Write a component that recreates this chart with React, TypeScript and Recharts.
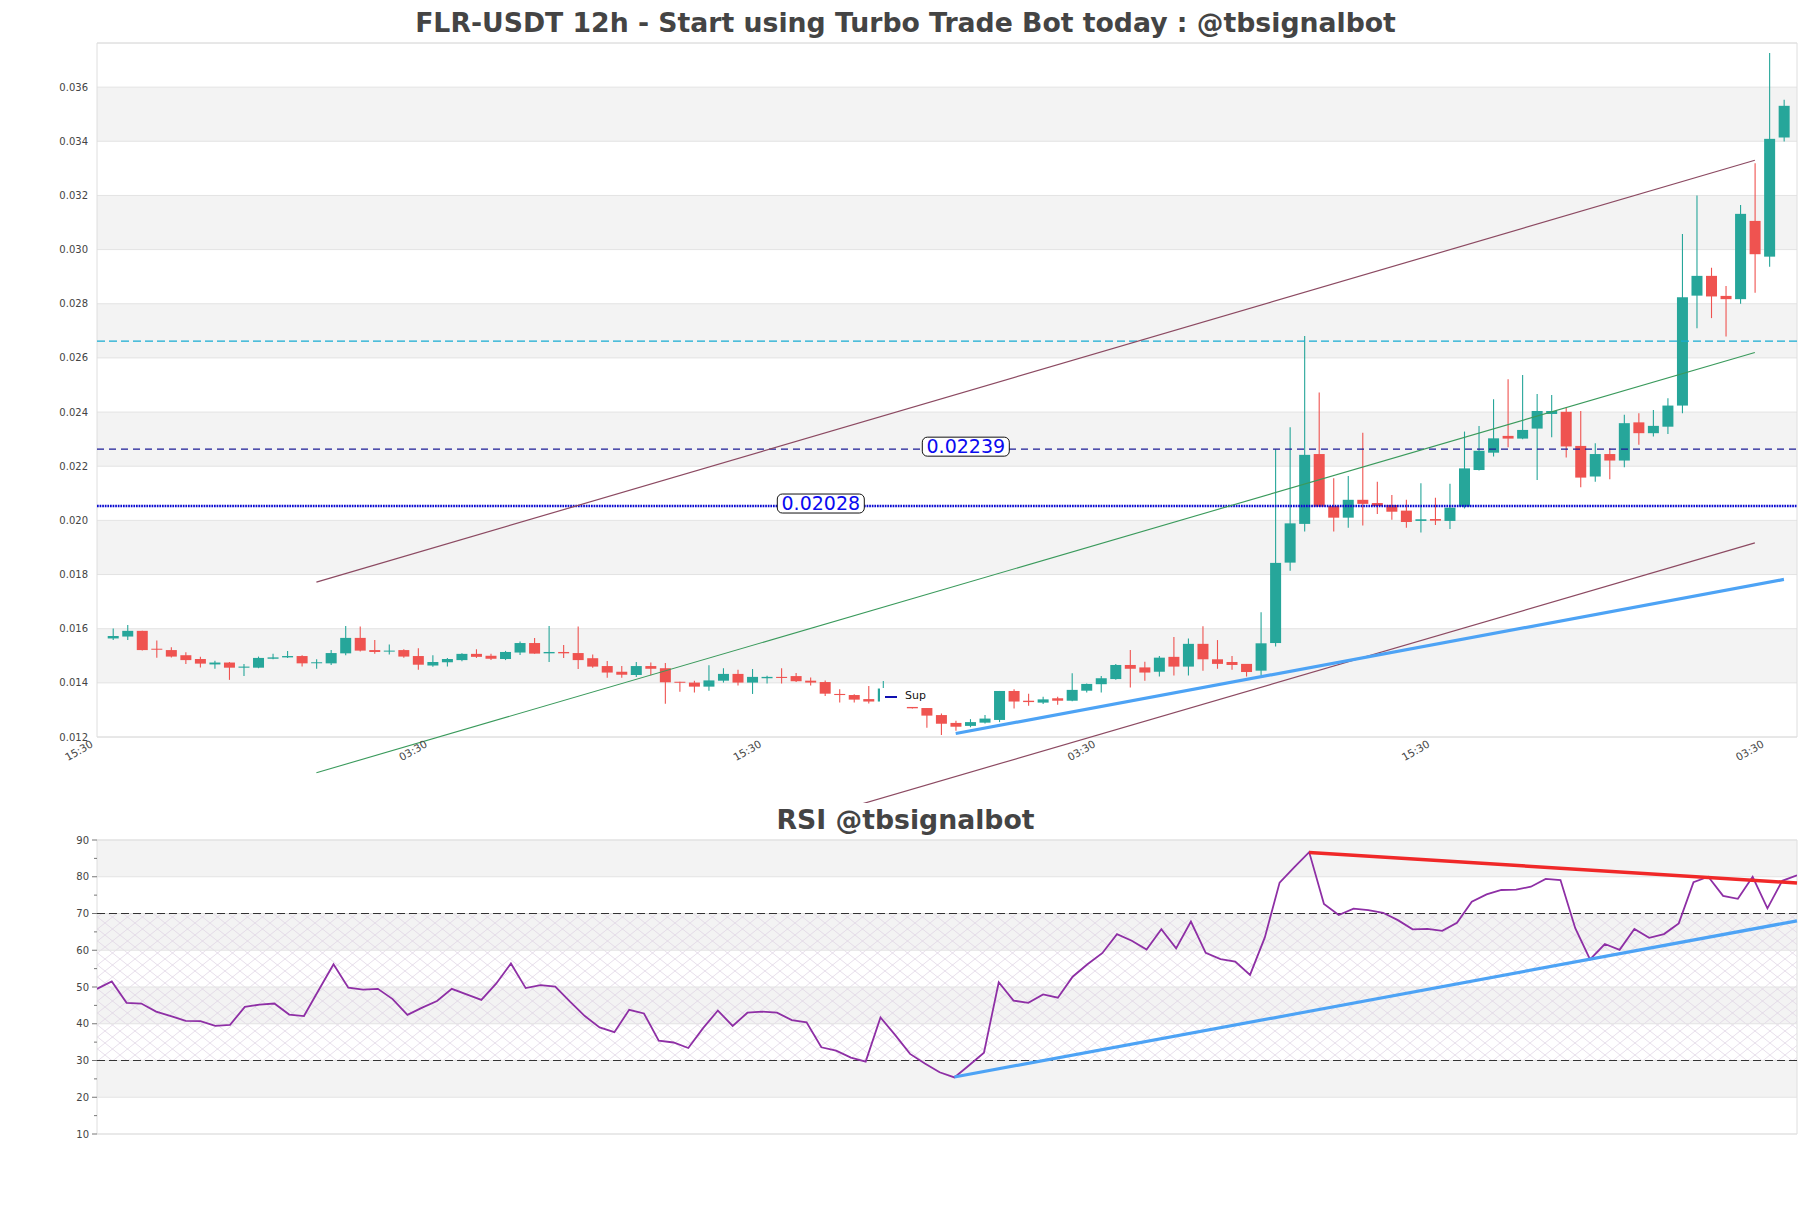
import React from "react";
import {
  ComposedChart,
  Bar,
  Line,
  XAxis,
  YAxis,
  CartesianGrid,
  ReferenceArea,
  ReferenceLine,
} from "recharts";

// 12h candles, index 0..115
const OPEN = [
  0.01564, 0.01571, 0.01592, 0.01526, 0.01521, 0.01502, 0.01488, 0.01468, 0.01475, 0.01456,
  0.01456, 0.01489, 0.01494, 0.01499, 0.01473, 0.01472, 0.01509, 0.01566, 0.01521, 0.01516,
  0.01521, 0.01499, 0.01464, 0.01476, 0.01484, 0.01507, 0.015, 0.01488, 0.01512, 0.01547,
  0.01509, 0.01514, 0.0151, 0.01491, 0.01462, 0.01441, 0.01429, 0.01462, 0.01454, 0.01404,
  0.01401, 0.01386, 0.01408, 0.01433, 0.01401, 0.01417, 0.01422, 0.01425, 0.01408, 0.01403,
  0.01359, 0.01355, 0.0134, 0.01331, 0.01372, 0.01311, 0.01307, 0.01281, 0.01252, 0.01241,
  0.01253, 0.01263, 0.0137, 0.01334, 0.01327, 0.01343, 0.01334, 0.01371, 0.01395, 0.01414,
  0.01466, 0.01457, 0.01441, 0.01496, 0.0146, 0.01544, 0.01487, 0.01477, 0.0147, 0.01445,
  0.01547, 0.01844, 0.01987, 0.02245, 0.02053, 0.0201, 0.02076, 0.02064, 0.02057, 0.02036,
  0.01998, 0.02005, 0.01998, 0.02051, 0.02186, 0.0225, 0.02312, 0.02302, 0.02339, 0.02393,
  0.02401, 0.02275, 0.02162, 0.02245, 0.02221, 0.02362, 0.02322, 0.02346, 0.02424, 0.0283,
  0.02903, 0.02829, 0.02817, 0.03106, 0.02974, 0.03414,
];
const HIGH = [
  0.01601, 0.01614, 0.01592, 0.01556, 0.01531, 0.01513, 0.01496, 0.01482, 0.01477, 0.0147,
  0.01497, 0.01507, 0.01518, 0.01502, 0.01487, 0.01521, 0.0161, 0.01608, 0.01558, 0.01542,
  0.01524, 0.01528, 0.01502, 0.01492, 0.01509, 0.01524, 0.01507, 0.01518, 0.01553, 0.01566,
  0.0161, 0.0154, 0.01608, 0.01505, 0.01481, 0.01462, 0.01477, 0.01475, 0.01473, 0.01404,
  0.01408, 0.01465, 0.01454, 0.01448, 0.01451, 0.01426, 0.01454, 0.01436, 0.0142, 0.01409,
  0.01376, 0.01358, 0.01388, 0.01407, 0.01376, 0.01311, 0.01307, 0.01287, 0.0126, 0.01266,
  0.01281, 0.0137, 0.01376, 0.0136, 0.01349, 0.01349, 0.01435, 0.01398, 0.01425, 0.0147,
  0.01521, 0.01478, 0.01499, 0.01569, 0.01564, 0.01609, 0.01558, 0.01499, 0.0147, 0.01661,
  0.02263, 0.02344, 0.02681, 0.02472, 0.02156, 0.02164, 0.02324, 0.02143, 0.02094, 0.02076,
  0.02137, 0.02084, 0.02135, 0.02328, 0.02349, 0.02447, 0.02521, 0.02537, 0.02467, 0.02463,
  0.02417, 0.02404, 0.02285, 0.02266, 0.0239, 0.02396, 0.02408, 0.02451, 0.03058, 0.032,
  0.02933, 0.02866, 0.03165, 0.03319, 0.03726, 0.03553,
];
const LOW = [
  0.01558, 0.01558, 0.01519, 0.01493, 0.01494, 0.0147, 0.01457, 0.01452, 0.01411, 0.01425,
  0.01454, 0.01487, 0.01492, 0.0146, 0.01452, 0.01466, 0.01502, 0.01516, 0.01507, 0.01505,
  0.01493, 0.01448, 0.01459, 0.0146, 0.0148, 0.01492, 0.01484, 0.01484, 0.01503, 0.01507,
  0.01477, 0.01492, 0.01451, 0.01456, 0.01419, 0.01419, 0.01422, 0.01428, 0.01323, 0.01367,
  0.01364, 0.01371, 0.01401, 0.0139, 0.01359, 0.01398, 0.01398, 0.01403, 0.0139, 0.01351,
  0.01327, 0.01327, 0.01324, 0.01331, 0.0132, 0.01305, 0.01234, 0.01207, 0.01223, 0.01236,
  0.0125, 0.01255, 0.01305, 0.01315, 0.01322, 0.01319, 0.01332, 0.01364, 0.01364, 0.01411,
  0.01383, 0.01408, 0.01423, 0.01427, 0.01427, 0.01445, 0.01452, 0.01448, 0.01423, 0.01429,
  0.01534, 0.01814, 0.01959, 0.02051, 0.01959, 0.01973, 0.01981, 0.02024, 0.02002, 0.01973,
  0.01955, 0.01983, 0.01968, 0.02044, 0.02184, 0.02236, 0.0227, 0.023, 0.02149, 0.02307,
  0.02232, 0.02122, 0.02143, 0.02152, 0.02196, 0.02279, 0.0231, 0.02319, 0.02396, 0.0271,
  0.02747, 0.02679, 0.028, 0.02841, 0.02937, 0.03399,
];
const CLOSE = [
  0.01573, 0.01592, 0.01521, 0.01523, 0.01497, 0.01484, 0.01471, 0.01475, 0.01456, 0.0146,
  0.01492, 0.01494, 0.01499, 0.01472, 0.01476, 0.0151, 0.01566, 0.01519, 0.01514, 0.01519,
  0.01497, 0.01467, 0.01477, 0.01488, 0.01507, 0.01496, 0.01489, 0.01514, 0.01547, 0.01508,
  0.01514, 0.01509, 0.01484, 0.0146, 0.01438, 0.0143, 0.01462, 0.01452, 0.01402, 0.01401,
  0.01386, 0.01409, 0.01433, 0.01401, 0.01422, 0.01422, 0.01418, 0.01406, 0.01401, 0.0136,
  0.01355, 0.01338, 0.01331, 0.01379, 0.01322, 0.01306, 0.01279, 0.01249, 0.01238, 0.01255,
  0.01268, 0.0137, 0.01331, 0.01329, 0.01339, 0.01334, 0.01374, 0.01396, 0.01417, 0.01466,
  0.01452, 0.01438, 0.01493, 0.0146, 0.01544, 0.01487, 0.0147, 0.01466, 0.0144, 0.01546,
  0.01843, 0.01989, 0.02242, 0.02051, 0.0201, 0.02076, 0.02061, 0.02053, 0.02032, 0.01994,
  0.02004, 0.01999, 0.02047, 0.02192, 0.02257, 0.02303, 0.02302, 0.02334, 0.02404, 0.02404,
  0.02273, 0.02158, 0.02245, 0.02221, 0.02359, 0.02322, 0.02349, 0.02424, 0.02824, 0.02903,
  0.02827, 0.02817, 0.03132, 0.02983, 0.03409, 0.03531,
];

const RSI = [
  49.5, 51.5, 45.7, 45.5, 43.3, 42.1, 40.8, 40.7, 39.4, 39.7,
  44.6, 45.2, 45.5, 42.5, 42.1, 49.2, 56.2, 49.8, 49.3, 49.5,
  46.7, 42.4, 44.4, 46.2, 49.5, 48.0, 46.5, 50.9, 56.4, 49.7,
  50.5, 50.1, 46.0, 42.1, 39.0, 37.7, 43.8, 42.8, 35.4, 34.9,
  33.4, 38.8, 43.6, 39.4, 43.0, 43.3, 43.0, 41.0, 40.4, 33.6,
  32.7, 30.8, 29.7, 41.7, 36.9, 31.8, 29.2, 26.8, 25.4, 28.7,
  32.1, 51.3, 46.3, 45.7, 48.0, 47.1, 52.8, 56.2, 59.2, 64.4,
  62.6, 60.2, 65.7, 60.5, 67.8, 59.3, 57.6, 56.9, 53.3, 63.5,
  78.4, 82.6, 86.7, 72.6, 69.6, 71.3, 70.9, 70.2, 68.2, 65.7,
  65.8, 65.3, 67.5, 73.2, 75.2, 76.4, 76.5, 77.3, 79.4, 79.1,
  66.0, 57.5, 61.7, 60.1, 65.8, 63.4, 64.4, 67.3, 78.5, 80.0,
  74.8, 74.0, 80.0, 71.4, 78.9, 80.4,
];

const X_TICKS = [-1.1, 21.9, 44.9, 67.9, 90.9, 113.9];
const X_LABELS = ["15:30", "03:30", "15:30", "03:30", "15:30", "03:30"];
const Y_TICKS = [0.012, 0.014, 0.016, 0.018, 0.02, 0.022, 0.024, 0.026, 0.028, 0.03, 0.032, 0.034, 0.036];
const Y_BANDS = [[0.014, 0.016], [0.018, 0.02], [0.022, 0.024], [0.026, 0.028], [0.03, 0.032], [0.034, 0.036]];
const RSI_TICKS = [10, 15, 20, 25, 30, 35, 40, 45, 50, 55, 60, 65, 70, 75, 80, 85, 90];
const RSI_GRID = [10, 20, 30, 40, 50, 60, 70, 80, 90];
const RSI_BANDS = [[80, 90], [60, 70], [40, 50], [20, 30]];

// trend lines [startIdx, startPrice, endIdx, endPrice]
const CHANNEL_UP = [14, 0.01772, 113, 0.0333];
const CHANNEL_MID = [14, 0.01068, 113, 0.0262];
const CHANNEL_LOW = [14, 0.00364, 113, 0.01917];
const SUPPORT = [58, 0.01213, 115, 0.01782];
const RSI_RES = [82, 86.6, 115, 78.3];
const RSI_SUP = [58, 25.5, 115, 68.0];

const LEVEL_CYAN = 0.02662;
const LEVEL_DASH = 0.02263;
const LEVEL_DOT = 0.02053;

const UP = "#26a69a";
const DOWN = "#ef5350";
const FONT = '"DejaVu Sans", Verdana, sans-serif';

const candles = OPEN.map((o, i) => ({
  i,
  o,
  h: HIGH[i],
  l: LOW[i],
  c: CLOSE[i],
  range: [LOW[i], HIGH[i]],
}));
const rsiData = RSI.map((v, i) => ({ i, rsi: v }));

const seg = (s: number[]) => [
  { x: s[0], y: s[1] },
  { x: s[2], y: s[3] },
];

const Candle = (props: any) => {
  const { x, y, width, height, payload } = props;
  if (!payload) return null;
  const { o, h, l, c } = payload;
  const color = c >= o ? UP : DOWN;
  const top = Math.min(y, y + height);
  const hgt = Math.abs(height);
  const pix = (v: number) => top + ((h - v) / (h - l || 1)) * hgt;
  const cx = x + width / 2;
  const bTop = pix(Math.max(o, c));
  const bBot = pix(Math.min(o, c));
  return (
    <g>
      <line x1={cx} x2={cx} y1={top} y2={top + hgt} stroke={color} strokeWidth={1.1} />
      <rect x={x} y={bTop} width={width} height={Math.max(bBot - bTop, 1)} fill={color} />
    </g>
  );
};

const XTick = (props: any) => {
  const { x, y, payload } = props;
  const idx = X_TICKS.indexOf(payload.value);
  return (
    <text
      transform={`translate(${x - 5},${y + 6}) rotate(-30)`}
      textAnchor="end"
      dy="0.35em"
      fontSize={10.5}
      fill="#444"
      fontFamily={FONT}
    >
      {X_LABELS[idx]}
    </text>
  );
};

const RsiTick = (props: any) => {
  const { x, y, payload } = props;
  const major = payload.value % 10 === 0;
  return (
    <g>
      <line x1={x - (major ? 5 : 3)} x2={x} y1={y} y2={y} stroke="#777" strokeWidth={1} />
      {major && (
        <text x={x - 8} y={y} dy="0.35em" textAnchor="end" fontSize={10} fill="#444" fontFamily={FONT}>
          {payload.value}
        </text>
      )}
    </g>
  );
};

const PriceTag = (props: any) => {
  const { viewBox, text, at } = props;
  if (!viewBox) return null;
  const cx = viewBox.x + at;
  const cy = viewBox.y;
  return (
    <g>
      <rect x={cx - 43.5} y={cy - 12} width={87} height={19} rx={5} fill="#fff" stroke="#111" strokeWidth={1} />
      <text x={cx} y={cy - 3} dy="0.36em" textAnchor="middle" fontSize={19} fill="#0a0af0" fontFamily={FONT}>
        {text}
      </text>
    </g>
  );
};

const titleStyle: React.CSSProperties = {
  position: "absolute",
  left: 0,
  width: 1811,
  textAlign: "center",
  fontFamily: FONT,
  fontWeight: 700,
  fontSize: 26.7,
  lineHeight: "27px",
  color: "#444",
};

export default function App() {
  return (
    <div
      style={{
        position: "absolute",
        left: 0,
        top: 0,
        width: 1811,
        height: 1208,
        background: "#fff",
        overflow: "hidden",
        fontFamily: FONT,
      }}
    >
      <svg width={0} height={0} style={{ position: "absolute" }}>
        <defs>
          <pattern id="rsiHatch" width={15} height={12} patternUnits="userSpaceOnUse">
            <path d="M0,0 L15,12 M15,0 L0,12" stroke="#dcd0e2" strokeWidth={0.7} fill="none" />
          </pattern>
        </defs>
      </svg>

      <div style={{ ...titleStyle, top: 9 }}>
        FLR-USDT 12h - Start using Turbo Trade Bot today : @tbsignalbot
      </div>

      <div style={{ position: "absolute", left: 0, top: 0, width: 1811, height: 803, overflow: "hidden" }}>
        <ComposedChart
          width={1811}
          height={803}
          data={candles}
          margin={{ top: 43, right: 14, bottom: 36, left: 37 }}
        >
          <XAxis
            dataKey="i"
            type="number"
            domain={[-1.1, 115.9]}
            ticks={X_TICKS}
            interval={0}
            height={30}
            tick={<XTick />}
            tickSize={0}
            tickMargin={0}
            axisLine={false}
            tickLine={false}
            allowDataOverflow
          />
          <YAxis
            type="number"
            domain={[0.012, 0.03763]}
            ticks={Y_TICKS}
            interval={0}
            width={60}
            tickSize={6}
            tickMargin={3}
            axisLine={false}
            tickLine={false}
            allowDataOverflow
            tickFormatter={(v: number) => v.toFixed(3)}
            tick={{ fontSize: 10, fill: "#444", fontFamily: FONT }}
          />
          {Y_BANDS.map(([a, b]) => (
            <ReferenceArea key={a} y1={a} y2={b} fill="#f3f3f3" fillOpacity={1} stroke="none" zIndex={-150} />
          ))}
          <CartesianGrid vertical={false} stroke="#e3e3e3" />
          <ReferenceArea
            x1={-1.1}
            x2={115.9}
            y1={0.012}
            y2={0.03763}
            fill="none"
            stroke="#dedede"
            strokeWidth={1}
            ifOverflow="visible"
          />
          <ReferenceLine y={LEVEL_CYAN} stroke="#17acd2" strokeWidth={1.3} strokeDasharray="8 4" />
          <ReferenceLine
            y={LEVEL_DASH}
            stroke="#1c1c96"
            strokeWidth={1.3}
            strokeDasharray="7 5"
            label={<PriceTag text="0.02239" at={868.8} />}
          />
          <ReferenceLine
            y={LEVEL_DOT}
            stroke="#0a0ad0"
            strokeWidth={2.6}
            strokeDasharray="1.7 0.9"
            label={<PriceTag text="0.02028" at={723.8} />}
          />
          <ReferenceLine segment={seg(CHANNEL_UP)} stroke="#8c4a62" strokeWidth={1.2} ifOverflow="visible" />
          <ReferenceLine segment={seg(CHANNEL_MID)} stroke="#3a9a5c" strokeWidth={1.1} ifOverflow="visible" />
          <ReferenceLine segment={seg(CHANNEL_LOW)} stroke="#8c4a62" strokeWidth={1.2} ifOverflow="visible" />
          <ReferenceLine segment={seg(SUPPORT)} stroke="#4da3f5" strokeWidth={3.2} ifOverflow="visible" />
          <Bar dataKey="range" barSize={11} shape={<Candle />} isAnimationActive={false} />
        </ComposedChart>
      </div>

      {/* legend box, covers the candle beneath as in the original */}
      <div
        style={{
          position: "absolute",
          left: 880,
          top: 688,
          width: 56,
          height: 17,
          background: "#fff",
        }}
      >
        <div style={{ position: "absolute", left: 5, top: 8, width: 12, height: 2, background: "#1010b0" }} />
        <div style={{ position: "absolute", left: 25, top: 1, fontSize: 11, lineHeight: "14px", color: "#111" }}>
          Sup
        </div>
      </div>

      <div style={{ ...titleStyle, top: 806 }}>RSI @tbsignalbot</div>

      <div style={{ position: "absolute", left: 0, top: 803, width: 1811, height: 405 }}>
        <ComposedChart
          width={1811}
          height={405}
          data={rsiData}
          margin={{ top: 37, right: 14, bottom: 74, left: 37 }}
        >
          <XAxis dataKey="i" type="number" domain={[0, 115]} hide allowDataOverflow />
          <YAxis
            type="number"
            domain={[10, 90]}
            ticks={RSI_TICKS}
            interval={0}
            width={60}
            tickSize={0}
            tickMargin={0}
            axisLine={false}
            tickLine={false}
            tick={<RsiTick />}
            allowDataOverflow
          />
          {RSI_BANDS.map(([a, b]) => (
            <ReferenceArea key={a} y1={a} y2={b} fill="#f3f3f3" fillOpacity={1} stroke="none" zIndex={-150} />
          ))}
          <ReferenceArea y1={30} y2={70} fill="url(#rsiHatch)" fillOpacity={1} stroke="none" zIndex={-140} />
          {RSI_GRID.map((g) => (
            <ReferenceLine key={g} y={g} stroke="#e3e3e3" strokeWidth={1} ifOverflow="visible" />
          ))}
          <ReferenceArea x1={0} x2={115} y1={10} y2={90} fill="none" stroke="#dedede" ifOverflow="visible" />
          <ReferenceLine y={70} stroke="#333" strokeWidth={1.2} strokeDasharray="8 4" />
          <ReferenceLine y={30} stroke="#333" strokeWidth={1.2} strokeDasharray="8 4" />
          <Line
            dataKey="rsi"
            type="linear"
            stroke="#8e2fa5"
            strokeWidth={1.8}
            dot={false}
            isAnimationActive={false}
          />
          <ReferenceLine segment={seg(RSI_RES)} stroke="#f02828" strokeWidth={3.5} ifOverflow="visible" />
          <ReferenceLine segment={seg(RSI_SUP)} stroke="#4da3f5" strokeWidth={3.2} ifOverflow="visible" />
        </ComposedChart>
      </div>
    </div>
  );
}
